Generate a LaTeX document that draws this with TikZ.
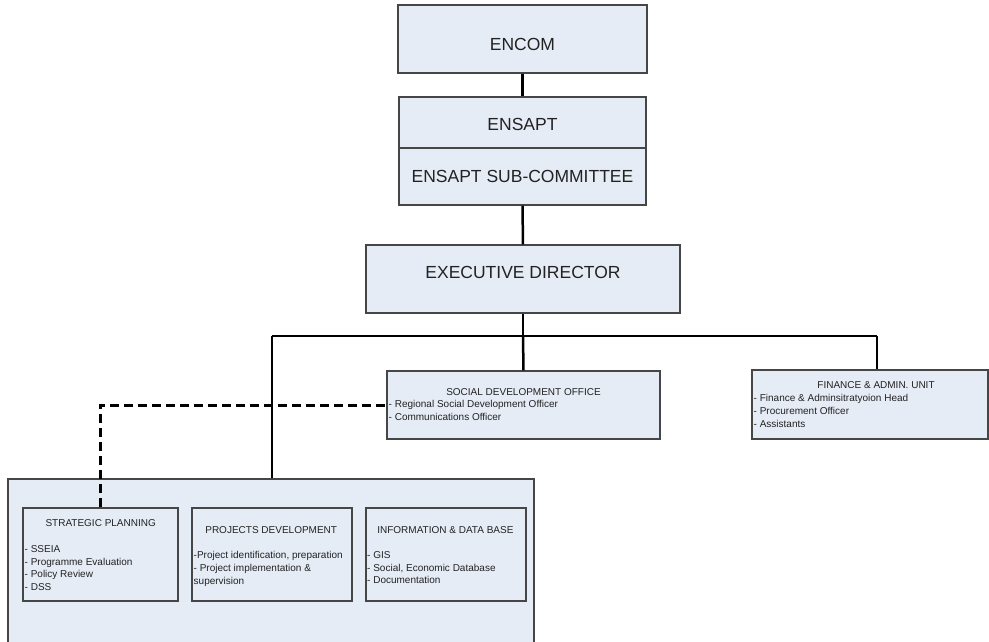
\documentclass[tikz,border=0pt]{standalone}
\usepackage{fontspec}
\setmainfont{Liberation Sans}
\definecolor{boxfill}{RGB}{230,236,246}
\definecolor{boxline}{RGB}{70,70,70}
\definecolor{txt}{RGB}{34,34,34}
\begin{document}
\begin{tikzpicture}[x=1pt,y=-1pt,
  box/.style={draw=boxline,line width=1.2pt,fill=boxfill,inner sep=0pt,rectangle},
  bigtxt/.style={inner sep=0pt,text=txt,font=\fontsize{17.5}{21}\selectfont},
  smalltitle/.style={inner sep=0pt,text=txt,font=\fontsize{10}{12.5}\selectfont},
  listtxt/.style={inner sep=0pt,text=txt,anchor=north west,align=left,font=\fontsize{10}{12.6}\selectfont},
  conn/.style={line width=2.5pt,black},
  thinconn/.style={line width=1.4pt,black},
  dashconn/.style={line width=3pt,black,dash pattern=on 9pt off 5pt}]
\useasboundingbox (0,0) rectangle (989,642);
% top boxes
\node[box,minimum width=249pt,minimum height=68pt] (encom) at (522.5,39) {};
\node[bigtxt] (encomt) at (522.5,44.5) {ENCOM};
\node[box,minimum width=247pt,minimum height=108pt] (ensapt) at (522.5,151) {};
\draw[boxline,line width=1.2pt] (ensapt.west |- 0,148) -- (ensapt.east |- 0,148);
\node[bigtxt] (ensaptt) at (522.5,124) {ENSAPT};
\node[bigtxt] (ensaptsub) at (522.5,176.5) {ENSAPT SUB-COMMITTEE};
\node[box,minimum width=314pt,minimum height=68pt] (exec) at (523,279) {};
\node[bigtxt] (exect) at (523,272) {EXECUTIVE DIRECTOR};
% middle boxes
\node[box,minimum width=273pt,minimum height=68pt] (sdo) at (523.5,405) {};
\node[smalltitle] (sdot) at (523.5,392) {SOCIAL DEVELOPMENT OFFICE};
\node[listtxt] (sdol) at (388.5,400.4) {- Regional Social Development Officer\\- Communications Officer};
\node[box,minimum width=236pt,minimum height=69pt] (fin) at (870,404.5) {};
\node[smalltitle] (fint) at (876,385) {FINANCE \& ADMIN. UNIT};
\node[listtxt] (finl) at (753.5,394.4) {- Finance \& Adminsitratyoion Head\\- Procurement Officer\\- Assistants};
% bottom big box (runs past the lower edge)
\node[box,minimum width=526pt,minimum height=181pt] (big) at (271,569.5) {};
\node[box,minimum width=155pt,minimum height=93pt] (strat) at (100.5,554.5) {};
\node[smalltitle] (stratt) at (100.7,523) {STRATEGIC PLANNING};
\node[listtxt] (stratl) at (24.5,545.4) {- SSEIA\\- Programme Evaluation\\- Policy Review\\- DSS};
\node[box,minimum width=160pt,minimum height=93pt] (proj) at (272,554.5) {};
\node[smalltitle] (projt) at (271.2,530) {PROJECTS DEVELOPMENT};
\node[listtxt] (projl) at (193.5,551.4) {-Project identification, preparation\\- Project implementation \&\\supervision};
\node[box,minimum width=160pt,minimum height=93pt] (info) at (446,554.5) {};
\node[smalltitle] (infot) at (445.4,530) {INFORMATION \& DATA BASE};
\node[listtxt] (infol) at (367,551.4) {- GIS\\- Social, Economic Database\\- Documentation};
% connectors
\coordinate (jmid) at (523,336);
\coordinate (jleft) at (272,336);
\coordinate (jright) at (877,336);
\draw[conn] (encom.south) -- (ensapt.north);
\draw[conn] (ensapt.south) -- (exec.north);
\draw[conn] (exec.south) -- (jmid);
\draw[conn] (jleft) -- (jright);
\draw[conn] (jmid) -- (sdo.north);
\draw[conn] (jright) -- (jright |- fin.north);
\draw[thinconn] (jleft) -- (jleft |- big.north);
\draw[dashconn] (strat.north) |- (sdo.west);
\end{tikzpicture}
\end{document}
